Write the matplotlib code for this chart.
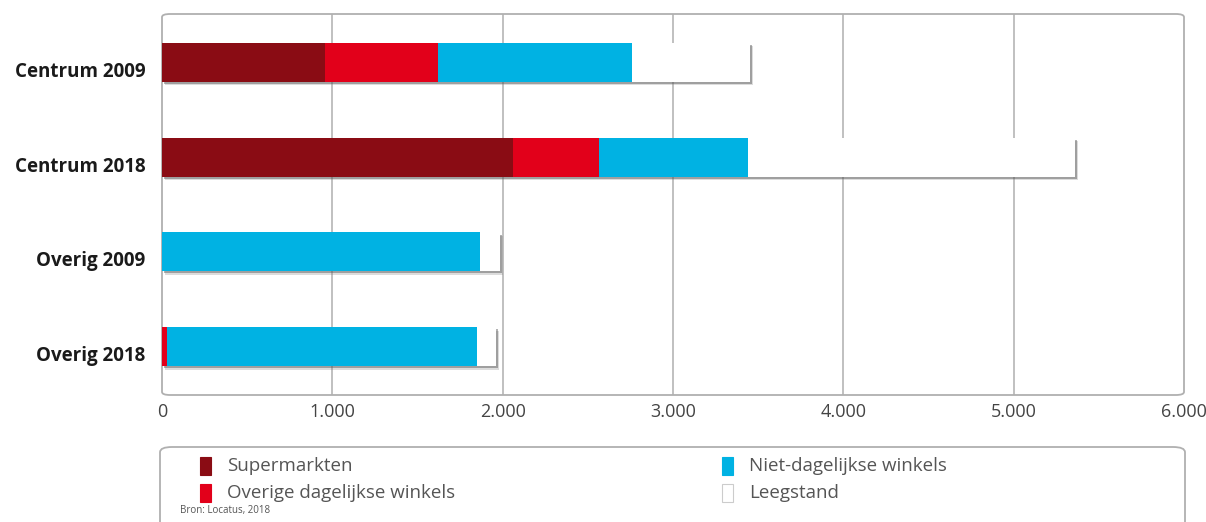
import matplotlib.pyplot as plt
import matplotlib.patheffects as pe
import matplotlib.transforms as mtrans
from matplotlib.patches import FancyBboxPatch, Rectangle
from matplotlib.ticker import FuncFormatter

plt.rcParams['font.family'] = ['Open Sans', 'DejaVu Sans']

# Data (winkelvloeroppervlak)
categories = ['Centrum 2009', 'Centrum 2018', 'Overig 2009', 'Overig 2018']
supermarkten = [955, 2060, 0, 0]
overige_dagelijks = [665, 505, 0, 30]
niet_dagelijks = [1140, 875, 1865, 1820]
leegstand = [690, 1920, 118, 110]

series_names = ['Supermarkten', 'Overige dagelijkse winkels',
                'Niet-dagelijkse winkels', 'Leegstand']
colors = ['#8A0C14', '#E2001A', '#00B2E3', '#FFFFFF']
x_ticks = [0, 1000, 2000, 3000, 4000, 5000, 6000]

fig = plt.figure(figsize=(12.06, 5.22), dpi=100)
ax = fig.add_axes([162 / 1206, 1 - 395 / 522, 1022 / 1206, 381 / 522])

ypos = list(range(len(categories)))
bar_h = 0.41
series = [supermarkten, overige_dagelijks, niet_dagelijks, leegstand]
totals = [sum(v) for v in zip(*series)]

# Zachte schaduw achter elke totale balk
ax.barh(ypos, totals, height=bar_h, color='white', zorder=2, linewidth=0,
        path_effects=[pe.SimplePatchShadow(offset=(2.5, -2.5), shadow_rgbFace='#777777', alpha=0.25),
                      pe.SimplePatchShadow(offset=(1.5, -1.5), shadow_rgbFace='#555555', alpha=0.45),
                      pe.Normal()])

left = [0] * len(categories)
for vals, col in zip(series, colors):
    ax.barh(ypos, vals, left=left, height=bar_h, color=col, zorder=3, linewidth=0)
    left = [l + v for l, v in zip(left, vals)]

ax.set_xlim(0, 6000)
ax.set_ylim(3.51, -0.51)
ax.set_xticks(x_ticks)
ax.xaxis.set_major_formatter(FuncFormatter(lambda v, p: f"{int(v):,}".replace(',', '.')))
ax.set_yticks(ypos)
ax.set_yticklabels(categories, fontsize=13.5, fontweight='bold', color='#1a1a1a')
ax.tick_params(axis='both', length=0)
ax.tick_params(axis='x', labelsize=13, colors='#444444', pad=6)
ax.tick_params(axis='y', pad=12)
shift = mtrans.ScaledTranslation(0, -7 / 100, fig.dpi_scale_trans)
for lbl in ax.get_yticklabels():
    lbl.set_transform(lbl.get_transform() + shift)

for xt in x_ticks[1:-1]:
    ax.axvline(xt, color='#b5b5b5', lw=1.2, zorder=1)
for s in ax.spines.values():
    s.set_visible(False)

# Afgeronde rand rond het plotgebied
ax.add_patch(FancyBboxPatch((0, 0), 1, 1, boxstyle='round,pad=0,rounding_size=0.008',
                            transform=ax.transAxes, fill=False, edgecolor='#b0b0b0',
                            lw=1.3, clip_on=False, zorder=1))

# Legenda
fig.patches.append(FancyBboxPatch((160 / 1206, -0.02), 1025 / 1206, 1 - 447 / 522 + 0.02,
                                  boxstyle='round,pad=0,rounding_size=0.01',
                                  transform=fig.transFigure, fill=False,
                                  edgecolor='#b0b0b0', lw=1.3))
leg_pos = [(200, 466), (200, 493), (722, 466), (722, 493)]
for (px, py), name, col in zip(leg_pos, series_names, colors):
    fig.patches.append(Rectangle((px / 1206, 1 - (py + 9) / 522), 11 / 1206, 18 / 522,
                                 transform=fig.transFigure, facecolor=col,
                                 edgecolor='#cccccc' if col == '#FFFFFF' else col, lw=0.8))
    fig.text((px + 27) / 1206, 1 - py / 522, name, fontsize=13.5, color='#555555',
             va='center', ha='left')

fig.text(180 / 1206, 1 - 511 / 522, 'Bron: Locatus, 2018', fontsize=7, color='#555555',
         va='center', ha='left')

fig.savefig('out.png', dpi=100)
